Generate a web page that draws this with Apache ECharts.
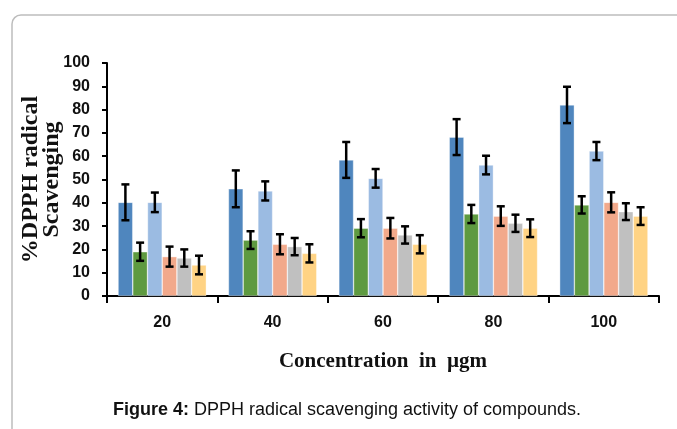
<!DOCTYPE html>
<html>
<head>
<meta charset="utf-8">
<script src="https://cdn.jsdelivr.net/npm/echarts@6/dist/echarts.min.js"></script>
<style>html,body{margin:0;padding:0;background:#fff}#c{width:677px;height:429px}</style>
</head>
<body>
<div id="c"></div>
<script>
const categories = ['20', '40', '60', '80', '100'];
const yTicks = [0, 10, 20, 30, 40, 50, 60, 70, 80, 90, 100];
const s1 = [40.2, 46.0, 58.4, 68.2, 82.0];
const e1 = [7.7, 7.9, 7.7, 7.7, 7.8];
const s2 = [19.0, 24.0, 29.1, 35.2, 39.1];
const e2 = [3.9, 3.8, 3.9, 3.9, 3.7];
const s3 = [40.2, 45.1, 50.5, 56.2, 62.2];
const e3 = [4.2, 4.1, 4.0, 4.0, 3.9];
const s4 = [16.9, 22.2, 29.1, 34.3, 40.2];
const e4 = [4.3, 4.3, 4.4, 4.2, 4.3];
const s5 = [16.3, 21.2, 26.2, 31.2, 36.2];
const e5 = [3.7, 3.7, 3.7, 3.7, 3.6];
const s6 = [13.3, 18.3, 22.2, 29.1, 34.3];
const e6 = [4.0, 3.9, 3.9, 3.8, 3.8];

const seriesVals = [s1, s2, s3, s4, s5, s6];
const seriesErr = [e1, e2, e3, e4, e5, e6];
const colors = ['#4F86BE', '#5E9A40', '#9BBBE2', '#F2A98B', '#C0C0C0', '#FFD384'];
const gapRatio = 0.2;

const errData = [];
seriesVals.forEach((vals, s) => {
  vals.forEach((v, c) => {
    errData.push([c, s, v - seriesErr[s][c], v + seriesErr[s][c]]);
  });
});

const labelFont = "'Liberation Sans', Arial, sans-serif";

const chart = echarts.init(document.getElementById('c'), null, {renderer: 'canvas'});
const option = {
  animation: false,
  backgroundColor: '#fff',
  grid: {left: 107, right: 18, top: 63, bottom: 133, containLabel: false},
  xAxis: {
    type: 'category',
    data: categories,
    axisLine: {lineStyle: {color: '#000', width: 2}},
    axisTick: {show: true, length: 7, lineStyle: {color: '#000', width: 2}},
    axisLabel: {color: '#111', fontFamily: labelFont, fontWeight: 'bold', fontSize: 16, margin: 19},
    name: 'Concentration  in  µgm',
    nameLocation: 'middle',
    nameGap: 55,
    nameMoveOverlap: false,
    nameTextStyle: {color: '#111', fontFamily: "'Liberation Serif', 'Times New Roman', serif", fontWeight: 'bold', fontSize: 21}
  },
  yAxis: {
    type: 'value',
    min: yTicks[0],
    max: yTicks[yTicks.length - 1],
    interval: 10,
    splitLine: {show: false},
    axisLine: {show: true, lineStyle: {color: '#000', width: 2}},
    axisTick: {show: true, length: 5, lineStyle: {color: '#000', width: 2}},
    axisLabel: {color: '#111', fontFamily: labelFont, fontWeight: 'bold', fontSize: 16, margin: 17},
    name: '%DPPH radical\nScavenging',
    nameLocation: 'middle',
    nameGap: 45,
    nameRotate: 90,
    nameMoveOverlap: false,
    nameTextStyle: {color: '#111', fontFamily: "'Liberation Serif', 'Times New Roman', serif", fontWeight: 'bold', fontSize: 24, lineHeight: 21}
  },
  series: seriesVals.map((vals, i) => ({
    type: 'bar',
    data: vals,
    barGap: '0%',
    barCategoryGap: (gapRatio * 100) + '%',
    itemStyle: {color: colors[i], borderColor: 'rgba(255,255,255,0.6)', borderWidth: 0.6}
  })).concat([{
    type: 'custom',
    data: errData,
    encode: {x: 0, y: [2, 3]},
    z: 10,
    renderItem: function (params, api) {
      const c = api.value(0);
      const s = api.value(1);
      const band = api.size([1, 0])[0];
      const barW = band * (1 - gapRatio) / seriesVals.length;
      const cx = api.coord([c, 0])[0] - band * (1 - gapRatio) / 2 + (s + 0.5) * barW;
      const yl = api.coord([c, api.value(2)])[1];
      const yh = api.coord([c, api.value(3)])[1];
      const cap = 4;
      const st = {stroke: '#000', lineWidth: 2.5};
      return {
        type: 'group',
        children: [
          {type: 'line', shape: {x1: cx, y1: yh, x2: cx, y2: yl}, style: st},
          {type: 'line', shape: {x1: cx - cap, y1: yh, x2: cx + cap, y2: yh}, style: st},
          {type: 'line', shape: {x1: cx - cap, y1: yl, x2: cx + cap, y2: yl}, style: st}
        ]
      };
    }
  }]),
  graphic: [
    {
      type: 'rect',
      shape: {x: 12, y: 15, width: 720, height: 500, r: 9},
      style: {fill: 'none', stroke: '#bdbdbd', lineWidth: 1.5},
      silent: true
    },
    {
      type: 'text',
      x: 347,
      y: 410,
      style: {
        text: '{b|Figure 4:} DPPH radical scavenging activity of compounds.',
        fontFamily: "'Liberation Sans', Arial, sans-serif",
        fontSize: 18,
        fill: '#111',
        align: 'center',
        verticalAlign: 'middle',
        rich: {b: {fontWeight: 'bold', fontSize: 18, fontFamily: "'Liberation Sans', Arial, sans-serif", fill: '#111'}}
      }
    }
  ]
};
chart.setOption(option);
</script>
</body>
</html>
